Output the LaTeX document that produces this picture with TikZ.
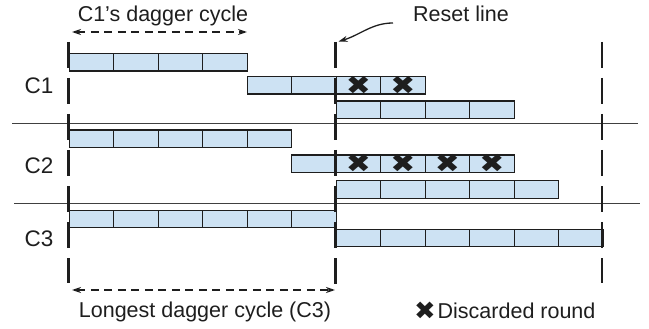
\documentclass[tikz,border=0pt]{standalone}
\usepackage{fontspec}
\setmainfont{Liberation Sans}
\newfontfamily\symfont{DejaVu Sans}
\usetikzlibrary{arrows.meta}
\definecolor{cellblue}{RGB}{205,226,243}
\definecolor{ink}{RGB}{30,30,30}
\tikzset{
  cell/.style={draw=ink, fill=cellblue, line width=1.3pt, minimum width=44.5pt, minimum height=17.5pt, inner sep=0pt, anchor=north west},
  xmark/.style={inner sep=0pt, font=\symfont\fontsize{26}{26}\selectfont, text=ink, xscale=1.15},
  lbl/.style={inner sep=0pt, font=\fontsize{21.5}{24}\selectfont, text=ink},
  rowlbl/.style={inner sep=0pt, font=\fontsize{22.5}{25}\selectfont, text=ink, anchor=base},
  vdash/.style={draw=ink, line width=2.8pt, dash pattern=on 26pt off 10pt},
  sepline/.style={draw=ink!85, line width=1.3pt},
  spanarrow/.style={draw=ink, line width=1.3pt, dash pattern=on 8pt off 5.5pt, {Stealth[length=9pt,width=6pt]}-{Stealth[length=9pt,width=6pt]}},
  callout/.style={draw=ink, line width=1.3pt, -{Stealth[length=9pt,width=6pt]}}
}
\begin{document}
\begin{tikzpicture}[x=1pt,y=-1pt]
\useasboundingbox (0,0) rectangle (649,329);

% separator lines
\coordinate (s1l) at (12,123.5); \coordinate (s1r) at (638,123.5);
\coordinate (s2l) at (14,203.5); \coordinate (s2r) at (640,203.5);
\draw[sepline] (s1l) -- (s1r);
\draw[sepline] (s2l) -- (s2r);

% C1 rows
\foreach \i in {0,...,3} \node[cell] (c1a\i) at ({68.5+\i*44.5},53) {};
\foreach \i in {4,...,7} \node[cell] (c1b\i) at ({68.5+\i*44.5},76) {};
\foreach \i in {6,...,9} \node[cell] (c1c\i) at ({68.5+\i*44.5},100.5) {};
% C2 rows
\foreach \i in {0,...,4} \node[cell] (c2a\i) at ({68.5+\i*44.5},129.5) {};
\foreach \i in {5,...,9} \node[cell] (c2b\i) at ({68.5+\i*44.5},154.5) {};
\foreach \i in {6,...,10} \node[cell] (c2c\i) at ({68.5+\i*44.5},180) {};
% C3 rows
\foreach \i in {0,...,5} \node[cell] (c3a\i) at ({68.5+\i*44.5},209.5) {};
\foreach \i in {6,...,11} \node[cell] (c3b\i) at ({68.5+\i*44.5},228.5) {};

% discarded marks
\foreach \i in {6,7} \node[xmark] (x1\i) at (c1b\i) {✖};
\foreach \i in {6,...,9} \node[xmark] (x2\i) at (c2b\i) {✖};

% vertical dashed lines
\coordinate (v0t) at (68.5,42); \coordinate (v0b) at (68.5,283);
\coordinate (v1t) at (335.5,42); \coordinate (v1b) at (335.5,287);
\coordinate (v2t) at (602,42); \coordinate (v2b) at (602,283);
\draw[vdash] (v0t) -- (v0b);
\draw[vdash] (v1t) -- (v1b);
\draw[vdash] (v2t) -- (v2b);

% row labels
\node[rowlbl] (lc1) at (39,93.3) {C1};
\node[rowlbl] (lc2) at (39,173.3) {C2};
\node[rowlbl] (lc3) at (39,246) {C3};

% top span arrow and label
\node[lbl, anchor=base] (t1) at (163,21.7) {C1’s dagger cycle};
\coordinate (a1l) at (72,32); \coordinate (a1r) at (247,32);
\draw[spanarrow] (a1l) -- (a1r);

% reset line callout
\node[lbl, anchor=base west] (reset) at (413,22) {Reset line};
\coordinate (rs) at (393,23); \coordinate (re) at (338.5,41.5);
\draw[callout] (rs) .. controls (372,23) and (360,35) .. (re);

% bottom span arrow and label
\coordinate (a2l) at (72,290); \coordinate (a2r) at (335,290);
\draw[spanarrow] (a2l) -- (a2r);
\node[lbl, anchor=base] (t2) at (205,317.5) {Longest dagger cycle (C3)};

% legend
\node[xmark, xscale=0.9, font=\symfont\fontsize{25}{25}\selectfont] (lx) at (425,310.5) {✖};
\node[lbl, anchor=base west] (lt) at (437.5,318) {Discarded round};
\end{tikzpicture}
\end{document}
